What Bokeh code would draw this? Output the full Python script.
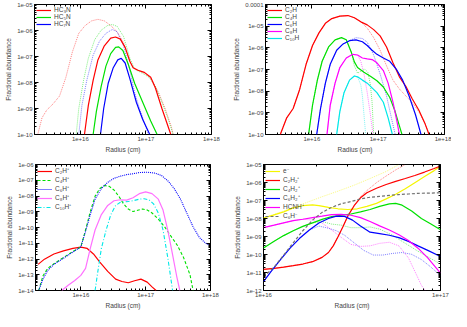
import numpy as np
from bokeh.plotting import figure
from bokeh.layouts import column, row
from bokeh.models import LogAxis, FixedTicker, CustomJSTickFormatter, CustomLabelingPolicy
from bokeh.embed import file_html
from bokeh.resources import INLINE

# ---------------- data: log10 radius (cm) and log10 fractional abundance ----------------
# Panel 1 (solid = model A, dotted = model B)
HC3N_R = [16.063,16.122,16.195,16.268,16.366,16.463,16.537,16.61,16.683,16.756,16.805,16.878,16.976,17.073,17.146,17.244,17.317,17.38]
HC3N_X = [-10.0,-8.88,-7.92,-7.13,-6.59,-6.29,-6.25,-6.33,-6.65,-7.19,-7.43,-7.53,-7.61,-7.80,-8.22,-9.0,-9.54,-10.0]
HC5N_R = [16.195,16.244,16.317,16.39,16.463,16.537,16.585,16.649,16.732,16.829,16.951,17.073,17.171]
HC5N_X = [-10.0,-9.12,-8.16,-7.37,-6.89,-6.65,-6.63,-6.77,-7.31,-8.04,-8.76,-9.48,-10.0]
HC7N_R = [16.307,16.356,16.424,16.502,16.571,16.624,16.683,16.756,16.854,16.951,17.059]
HC7N_X = [-10.0,-9.0,-8.04,-7.43,-7.13,-7.07,-7.25,-7.86,-8.76,-9.42,-10.0]
HC3N_R2 = [15.351,15.415,15.488,15.585,15.683,15.78,15.878,15.976,16.073,16.171,16.268,16.366,16.463,16.561,16.659,16.756,16.805,16.902,17.0,17.098,17.195,17.293,17.39,17.415]
HC3N_X2 = [-10.0,-9.36,-9.06,-8.82,-8.52,-7.80,-6.83,-6.11,-5.81,-5.63,-5.57,-5.63,-5.81,-6.05,-6.47,-7.19,-7.43,-7.55,-7.67,-7.92,-8.40,-9.0,-9.72,-10.0]
HC5N_R2 = [15.937,15.976,16.049,16.122,16.22,16.317,16.415,16.488,16.561,16.659,16.756,16.829,16.951,17.049,17.146,17.244,17.341,17.415]
HC5N_X2 = [-10.0,-9.0,-7.92,-7.07,-6.35,-5.99,-5.81,-5.77,-5.84,-6.23,-7.07,-7.49,-7.65,-7.80,-8.16,-8.76,-9.42,-10.0]
HC7N_R2 = [15.976,16.024,16.098,16.195,16.293,16.39,16.488,16.561,16.659,16.756,16.829,16.902,16.976,17.039]
HC7N_X2 = [-10.0,-8.88,-7.92,-6.95,-6.41,-6.11,-5.96,-6.05,-6.59,-7.55,-8.40,-9.0,-9.54,-10.0]

# Panel 2
C2H_R = [15.524,15.621,15.718,15.816,15.913,16.01,16.107,16.204,16.301,16.422,16.544,16.641,16.738,16.835,16.932,17.029,17.126,17.223,17.32,17.417,17.515,17.612,17.709,17.767]
C2H_X = [-10.0,-9.23,-8.80,-7.92,-6.76,-5.89,-5.31,-4.87,-4.65,-4.54,-4.51,-4.61,-4.80,-4.94,-5.16,-5.45,-5.96,-6.69,-7.34,-7.78,-8.36,-8.87,-9.52,-10.0]
C2H_R2 = [15.524,15.621,15.718,15.816,15.913,16.01,16.107,16.204,16.301,16.422,16.544,16.641,16.738,16.835,16.932,17.029,17.126,17.223,17.32,17.417,17.515,17.612,17.709,17.767]
C2H_X2 = [-10.0,-9.23,-8.80,-7.92,-6.76,-5.89,-5.31,-4.87,-4.65,-4.54,-4.51,-4.61,-4.80,-5.09,-5.53,-6.11,-6.83,-7.49,-7.90,-8.22,-8.53,-8.94,-9.52,-10.0]
C4H_R = [15.951,16.01,16.083,16.155,16.252,16.35,16.447,16.519,16.592,16.641,16.689,16.786,16.883,16.981,17.078,17.175,17.248,17.32,17.359]
C4H_X = [-10.0,-8.65,-7.49,-6.62,-5.96,-5.63,-5.53,-5.63,-6.18,-6.65,-6.91,-7.13,-7.31,-7.52,-7.81,-8.29,-8.87,-9.60,-10.0]
C4H_R2 = [15.951,16.01,16.083,16.155,16.252,16.35,16.447,16.519,16.592,16.641,16.689,16.738,16.796,16.845,16.883,16.908,16.932]
C4H_X2 = [-10.0,-8.65,-7.49,-6.62,-5.96,-5.63,-5.53,-5.63,-6.18,-6.83,-7.17,-7.08,-6.98,-7.13,-7.71,-8.51,-10.0]
C6H_R = [16.073,16.131,16.204,16.277,16.374,16.471,16.568,16.665,16.762,16.835,16.908,16.981,17.078,17.175,17.272,17.369,17.466,17.563,17.646]
C6H_X = [-10.0,-8.80,-7.63,-6.76,-6.11,-5.82,-5.67,-5.63,-5.72,-5.89,-6.11,-6.30,-6.47,-6.62,-6.98,-7.49,-8.22,-9.09,-10.0]
C6H_R2 = [16.073,16.131,16.204,16.277,16.374,16.471,16.568,16.665,16.762,16.835,16.932,17.029,17.126,17.199,17.257]
C6H_X2 = [-10.0,-8.80,-7.63,-6.76,-6.11,-5.82,-5.67,-5.53,-5.57,-5.74,-6.33,-7.20,-8.22,-9.23,-10.0]
C8H_R = [16.228,16.277,16.35,16.422,16.519,16.617,16.689,16.762,16.835,16.908,16.981,17.078,17.15,17.223,17.282,17.32]
C8H_X = [-10.0,-8.65,-7.63,-6.91,-6.47,-6.30,-6.33,-6.47,-6.51,-6.54,-6.69,-7.05,-7.63,-8.51,-9.38,-10.0]
C8H_R2 = [16.228,16.277,16.35,16.422,16.519,16.617,16.689,16.738,16.786,16.835,16.883,16.922]
C8H_X2 = [-10.0,-8.65,-7.63,-6.91,-6.47,-6.30,-6.33,-6.62,-7.20,-8.07,-9.09,-10.0]
C10H_R = [16.374,16.422,16.485,16.568,16.641,16.689,16.762,16.835,16.908,16.981,17.078,17.15,17.214]
C10H_X = [-10.0,-8.94,-8.07,-7.49,-7.30,-7.34,-7.49,-7.63,-7.85,-8.07,-8.51,-9.23,-10.0]
C10H_R2 = [16.374,16.422,16.485,16.568,16.641,16.689,16.738,16.762,16.786,16.811]
C10H_X2 = [-10.0,-8.94,-8.07,-7.49,-7.30,-7.34,-7.71,-8.22,-9.09,-10.0]

# Panel 3 (cations)
C2HP_R = [15.341,15.439,15.585,15.732,15.878,16.0,16.098,16.195,16.293,16.415,16.537,16.634,16.732,16.829,16.927,17.024,17.098,17.161]
C2HP_X = [-12.34,-12.01,-11.68,-11.48,-11.33,-11.25,-11.33,-11.68,-12.20,-12.79,-13.28,-13.43,-13.51,-13.38,-13.28,-13.47,-13.77,-14.0]
C4HP_R = [15.351,15.415,15.488,15.585,15.732,15.878,16.0,16.073,16.146,16.22,16.293,16.366,16.439,16.512,16.585,16.659,16.732,16.805,16.878,16.951,17.024,17.098,17.195,17.293,17.39,17.488,17.585,17.683,17.732]
C4HP_X = [-14.0,-13.08,-12.60,-12.30,-11.91,-11.52,-11.23,-10.16,-8.99,-8.01,-7.52,-7.33,-7.39,-7.62,-8.01,-8.50,-8.83,-8.99,-8.91,-8.83,-8.89,-9.08,-9.47,-9.96,-10.55,-11.13,-11.91,-12.99,-14.0]
C6HP_R = [15.351,15.415,15.488,15.585,15.732,15.878,16.0,16.073,16.146,16.22,16.317,16.415,16.512,16.61,16.707,16.805,16.902,17.024,17.146,17.244,17.341,17.439,17.537,17.634,17.732,17.829,17.927,17.985]
C6HP_X = [-14.0,-13.28,-12.73,-12.34,-11.95,-11.56,-11.23,-10.25,-9.18,-8.20,-7.52,-7.13,-6.88,-6.74,-6.64,-6.59,-6.51,-6.49,-6.55,-6.70,-7.03,-7.52,-8.20,-9.08,-9.96,-10.64,-11.0,-11.13]
C8HP_R = [15.707,15.805,15.902,16.0,16.073,16.146,16.22,16.317,16.415,16.512,16.61,16.707,16.805,16.902,17.0,17.098,17.195,17.268,17.341,17.415,17.478,17.527]
C8HP_X = [-14.0,-13.67,-13.38,-13.04,-12.60,-11.33,-10.16,-9.18,-8.60,-8.30,-8.24,-8.26,-8.11,-7.85,-7.74,-7.85,-8.20,-8.89,-10.16,-11.72,-13.08,-14.0]
C10HP_R = [16.22,16.259,16.317,16.39,16.463,16.537,16.61,16.707,16.805,16.902,16.976,17.049,17.122,17.195,17.268,17.341,17.39,17.415]
C10HP_X = [-14.0,-12.89,-11.33,-10.16,-9.18,-8.60,-8.40,-8.36,-8.30,-8.20,-8.17,-8.24,-8.50,-9.08,-10.16,-11.91,-13.28,-14.0]

# Panel 4 (electrons and ions)
E_R = [16.0,16.06,16.114,16.168,16.222,16.277,16.313,16.367,16.421,16.476,16.53,16.584,16.638,16.693,16.747,16.801,16.855,16.91,16.964,17.0]
E_X = [-7.97,-7.80,-7.63,-7.41,-7.29,-7.24,-7.28,-7.38,-7.46,-7.50,-7.46,-7.33,-7.16,-6.91,-6.65,-6.35,-6.01,-5.67,-5.34,-5.10]
E_R2 = [16.0,16.06,16.15,16.241,16.331,16.421,16.512,16.602,16.693,16.765]
E_X2 = [-7.97,-7.77,-7.46,-7.12,-6.79,-6.48,-6.15,-5.78,-5.39,-5.0]
C2H2P_R = [16.0,16.06,16.114,16.168,16.222,16.277,16.331,16.367,16.394,16.421,16.448,16.476,16.512,16.548,16.584,16.638,16.693,16.747,16.801,16.855,16.91,16.964,17.0]
C2H2P_X = [-10.83,-10.77,-10.70,-10.62,-10.53,-10.40,-10.16,-9.89,-9.52,-9.01,-8.47,-7.87,-7.29,-6.85,-6.57,-6.32,-6.11,-5.94,-5.78,-5.61,-5.42,-5.22,-5.08]
C2H2P_R2 = [16.0,16.06,16.114,16.168,16.222,16.277,16.331,16.367,16.394,16.421,16.448,16.476,16.512,16.548,16.584,16.638,16.693,16.747,16.801]
C2H2P_X2 = [-10.83,-10.77,-10.70,-10.62,-10.53,-10.40,-10.16,-9.89,-9.52,-9.01,-8.47,-7.87,-7.29,-6.79,-6.45,-6.01,-5.64,-5.30,-5.0]
C4H2P_R = [16.0,16.06,16.114,16.168,16.222,16.277,16.331,16.385,16.439,16.494,16.548,16.602,16.656,16.711,16.747,16.783,16.837,16.892,16.946,17.0]
C4H2P_X = [-9.64,-9.27,-8.95,-8.68,-8.44,-8.24,-8.05,-7.90,-7.82,-7.75,-7.63,-7.50,-7.33,-7.19,-7.16,-7.26,-7.58,-8.0,-8.31,-8.63]
C4H2P_R2 = [16.0,16.06,16.114,16.168,16.222,16.277,16.331,16.385,16.439,16.494,16.548,16.602,16.656,16.729,16.801,16.873,16.946,17.0]
C4H2P_X2 = [-9.64,-9.27,-8.95,-8.68,-8.44,-8.24,-8.17,-8.31,-8.37,-8.51,-8.51,-8.47,-8.59,-8.93,-9.38,-9.82,-10.23,-10.53]
C6H2P_R = [16.0,16.042,16.096,16.15,16.204,16.259,16.313,16.367,16.412,16.458,16.503,16.548,16.602,16.656,16.711,16.765,16.819,16.873,16.928,17.0]
C6H2P_X = [-11.51,-10.95,-10.28,-9.65,-9.10,-8.64,-8.25,-8.0,-7.87,-7.88,-8.09,-8.42,-8.76,-8.84,-8.93,-9.06,-9.27,-9.52,-9.77,-10.11]
C6H2P_R2 = [16.0,16.042,16.096,16.15,16.204,16.259,16.313,16.367,16.412,16.458,16.512,16.566,16.62,16.675,16.729,16.783,16.837,16.892,16.946,17.0]
C6H2P_X2 = [-11.51,-10.95,-10.28,-9.65,-9.10,-8.64,-8.42,-8.54,-8.68,-8.93,-9.35,-9.77,-10.03,-10.03,-9.94,-9.89,-9.99,-10.28,-10.70,-11.17]
HCNHP_R = [16.0,16.06,16.114,16.168,16.222,16.277,16.331,16.385,16.439,16.494,16.548,16.602,16.656,16.711,16.765,16.819,16.873,16.928,17.0]
HCNHP_X = [-8.51,-8.37,-8.24,-8.12,-8.04,-7.95,-7.87,-7.78,-7.77,-7.82,-7.95,-8.17,-8.41,-8.64,-8.90,-9.22,-9.65,-10.19,-11.04]
HCNHP_R2 = [16.0,16.06,16.114,16.168,16.222,16.277,16.331,16.385,16.439,16.494,16.548,16.602,16.656,16.711,16.765,16.819,16.864,16.892,16.913]
HCNHP_X2 = [-8.51,-8.37,-8.24,-8.12,-8.04,-8.09,-8.25,-8.64,-9.05,-9.44,-9.55,-9.52,-9.38,-9.32,-9.52,-10.19,-11.12,-11.71,-12.0]
C6HM_R = [16.0,16.06,16.114,16.168,16.222,16.277,16.331,16.385,16.439,16.494,16.548,16.602,16.656,16.711,16.765,16.819,16.873,16.946,17.0]
C6HM_X = [-11.24,-10.70,-10.03,-9.35,-8.68,-8.09,-7.66,-7.38,-7.18,-7.06,-6.91,-6.82,-6.77,-6.72,-6.67,-6.64,-6.60,-6.59,-6.57]

# ticks
X_TICKS_WIDE = [1e16, 1e17, 1e18]
X_TICKS_NARROW = [1e16, 1e17]
Y_TICKS_1 = [1e-10, 1e-9, 1e-8, 1e-7, 1e-6, 1e-5]
Y_TICKS_2 = [1e-10, 1e-9, 1e-8, 1e-7, 1e-6, 1e-5, 1e-4]
Y_TICKS_3 = [1e-14, 1e-13, 1e-12, 1e-11, 1e-10, 1e-9, 1e-8, 1e-7, 1e-6]
Y_TICKS_4 = [1e-12, 1e-11, 1e-10, 1e-9, 1e-8, 1e-7, 1e-6, 1e-5]

FONT = "Liberation Sans"
RED, GREEN, BLUE, MAG, CYAN, YEL, GRAY = "#ff0000", "#00e000", "#0000ff", "#ff00ff", "#00e8e8", "#f5f500", "#707070"

FMT = CustomJSTickFormatter(code="""
const e = Math.round(Math.log10(tick));
if (e >= -4 && e < 6) { return String(Number("1e" + e)); }
const a = Math.abs(e);
return "1e" + (e < 0 ? "-" : "+") + (a < 10 ? "0" + a : String(a));
""")

NO_LABELS = CustomLabelingPolicy(code="""
try { return new indices.constructor(indices.size, 0); } catch (err) { return indices; }
""")


def minors(major, lo, hi):
    out = []
    decs = sorted(set([np.floor(np.log10(lo))] + [np.log10(t) for t in major]))
    for d in decs:
        for m in range(2, 10):
            v = m * 10 ** d
            if lo <= v <= hi:
                out.append(v)
    return out


def make_fig(w, h, xr, yr, xt, yt, bl, br, bt, bb):
    p = figure(width=w, height=h, x_axis_type="log", y_axis_type="log",
               x_range=xr, y_range=yr, output_backend="svg", toolbar_location=None,
               min_border_left=bl, min_border_right=br, min_border_top=bt, min_border_bottom=bb,
               background_fill_color="white", border_fill_color="white")
    p.grid.visible = False
    p.outline_line_color = "black"
    p.outline_line_width = 1
    xtick = FixedTicker(ticks=xt, minor_ticks=minors(xt, xr[0], xr[1]))
    ytick = FixedTicker(ticks=yt, minor_ticks=minors(yt, yr[0], yr[1]))
    for ax, tk in ((p.xaxis[0], xtick), (p.yaxis[0], ytick)):
        ax.ticker = tk
        ax.formatter = FMT
        ax.axis_line_color = None
        ax.major_tick_in = 4
        ax.major_tick_out = 0
        ax.minor_tick_in = 2
        ax.minor_tick_out = 0
        ax.major_label_text_font = FONT
        ax.major_label_text_font_size = "6px"
        ax.major_label_standoff = 2
        ax.axis_label_text_font = FONT
        ax.axis_label_text_font_size = "6.5px"
        ax.axis_label_text_font_style = "normal"
        ax.axis_label_standoff = 2
    p.xaxis.axis_label = "Radius (cm)"
    p.yaxis.axis_label = "Fractional abundance"
    for loc, tk in (("above", xtick), ("right", ytick)):
        ax = LogAxis(ticker=tk, formatter=FMT, major_label_policy=NO_LABELS,
                     major_label_text_font_size="0px",
                     major_label_standoff=0, axis_line_color=None,
                     major_tick_in=4, major_tick_out=0, minor_tick_in=2, minor_tick_out=0)
        p.add_layout(ax, loc)
    return p


def L(v):
    return 10 ** np.asarray(v)


def style_legend(p):
    lg = p.legend[0]
    lg.location = "top_left"
    lg.margin = 2
    lg.padding = 3
    lg.spacing = -2
    lg.glyph_width = 15
    lg.glyph_height = 6
    lg.label_height = 6
    lg.label_standoff = 3
    lg.label_text_font = FONT
    lg.label_text_font_size = "6.5px"
    lg.border_line_color = None
    lg.background_fill_alpha = 0


DOT = dict(line_width=1, line_dash="1 1", line_alpha=0.5)
SOL = dict(line_width=1.2)

# ---------------- panel 1 ----------------
p1 = make_fig(225, 155, (2e15, 1e18), (1e-10, 1e-5), X_TICKS_WIDE, Y_TICKS_1, 34, 14, 4, 20)
p1.line(L(HC3N_R2), L(HC3N_X2), line_color=RED, **DOT)
p1.line(L(HC5N_R2), L(HC5N_X2), line_color=GREEN, **DOT)
p1.line(L(HC7N_R2), L(HC7N_X2), line_color=BLUE, **DOT)
p1.line(L(HC3N_R), L(HC3N_X), line_color=RED, legend_label="HC₃N", **SOL)
p1.line(L(HC5N_R), L(HC5N_X), line_color=GREEN, legend_label="HC₅N", **SOL)
p1.line(L(HC7N_R), L(HC7N_X), line_color=BLUE, legend_label="HC₇N", **SOL)
style_legend(p1)

# ---------------- panel 2 ----------------
p2 = make_fig(226, 155, (2e15, 1e18), (1e-10, 1e-4), X_TICKS_WIDE, Y_TICKS_2, 40, 7, 4, 20)
p2.line(L(C2H_R2), L(C2H_X2), line_color=RED, **DOT)
p2.line(L(C4H_R2), L(C4H_X2), line_color=GREEN, **DOT)
p2.line(L(C6H_R2), L(C6H_X2), line_color=BLUE, **DOT)
p2.line(L(C8H_R2), L(C8H_X2), line_color=MAG, **DOT)
p2.line(L(C10H_R2), L(C10H_X2), line_color=CYAN, **DOT)
p2.line(L(C2H_R), L(C2H_X), line_color=RED, legend_label="C₂H", **SOL)
p2.line(L(C4H_R), L(C4H_X), line_color=GREEN, legend_label="C₄H", **SOL)
p2.line(L(C6H_R), L(C6H_X), line_color=BLUE, legend_label="C₆H", **SOL)
p2.line(L(C8H_R), L(C8H_X), line_color=MAG, legend_label="C₈H", **SOL)
p2.line(L(C10H_R), L(C10H_X), line_color=CYAN, legend_label="C₁₀H", **SOL)
style_legend(p2)

# ---------------- panel 3 ----------------
p3 = make_fig(225, 156, (2e15, 1e18), (1e-14, 1e-6), X_TICKS_WIDE, Y_TICKS_3, 35, 15, 9, 19)
p3.line(L(C2HP_R), L(C2HP_X), line_color=RED, line_width=1.2, legend_label="C₂H⁺")
p3.line(L(C4HP_R), L(C4HP_X), line_color=GREEN, line_width=1.1, line_dash="3 2", legend_label="C₄H⁺")
p3.line(L(C6HP_R), L(C6HP_X), line_color=BLUE, line_width=1.1, line_dash="1 1", legend_label="C₆H⁺")
p3.line(L(C8HP_R), L(C8HP_X), line_color="#ff70ff", line_width=1.2, legend_label="C₈H⁺")
p3.line(L(C10HP_R), L(C10HP_X), line_color=CYAN, line_width=1.1, line_dash="4 2 1 2", legend_label="C₁₀H⁺")
style_legend(p3)

# ---------------- panel 4 ----------------
p4 = make_fig(226, 156, (1e16, 1e17), (1e-12, 1e-5), X_TICKS_NARROW, Y_TICKS_4, 38, 11, 7, 19)
p4.line(L(E_R2), L(E_X2), line_color=YEL, **DOT)
p4.line(L(C2H2P_R2), L(C2H2P_X2), line_color=RED, **DOT)
p4.line(L(C4H2P_R2), L(C4H2P_X2), line_color=GREEN, **DOT)
p4.line(L(C6H2P_R2), L(C6H2P_X2), line_color=BLUE, **DOT)
p4.line(L(HCNHP_R2), L(HCNHP_X2), line_color=MAG, **DOT)
p4.line(L(E_R), L(E_X), line_color=YEL, legend_label="e⁻", **SOL)
p4.line(L(C2H2P_R), L(C2H2P_X), line_color=RED, legend_label="C₂H₂⁺", **SOL)
p4.line(L(C4H2P_R), L(C4H2P_X), line_color=GREEN, legend_label="C₄H₂⁺", **SOL)
p4.line(L(C6H2P_R), L(C6H2P_X), line_color=BLUE, legend_label="C₆H₂⁺", **SOL)
p4.line(L(HCNHP_R), L(HCNHP_X), line_color=MAG, legend_label="HCNH⁺", **SOL)
p4.line(L(C6HM_R), L(C6HM_X), line_color=GRAY, line_width=1.2, line_dash="3 2", legend_label="C₆H⁻")
style_legend(p4)

layout = column(row(p1, p2, spacing=0), row(p3, p4, spacing=0), spacing=0)
open("out.html", "w").write(file_html(layout, INLINE))
